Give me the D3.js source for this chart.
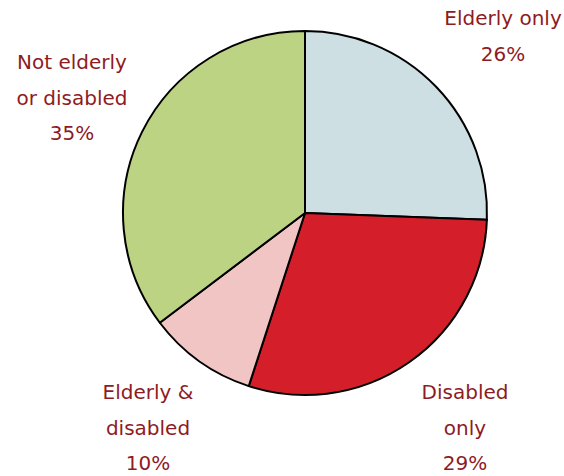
<!DOCTYPE html>
<html>
<head>
<meta charset="utf-8">
<script src="https://cdn.jsdelivr.net/npm/d3@7"></script>
<style>
  body { margin: 0; background: #fff; }
  text { font-family: "DejaVu Sans", sans-serif; font-size: 20px; fill: #8e1b1f; }
</style>
</head>
<body>
<div id="chart"></div>
<script>
// slice data, clockwise from 12 o'clock (labels show rounded shares)
const categories = ["Elderly only", "Disabled only", "Elderly & disabled", "Not elderly or disabled"];
const values = [25.6, 29.4, 9.7, 35.3];
const labelLines = [
    ["Elderly only", "26%"],
    ["Disabled", "only", "29%"],
    ["Elderly &", "disabled", "10%"],
    ["Not elderly", "or disabled", "35%"]
];
const colors = ["#cddfe2", "#d41f2a", "#f0c5c4", "#bdd384"];

const width = 564, height = 476;
const cx = 305, cy = 213, radius = 182;

let svg = d3.select("#chart")
    .append("svg")
    .attr("width", width)
    .attr("height", height);

let plot = svg.append("g")
    .attr("transform", `translate(${cx},${cy})`);

const pie = d3.pie().sort(null).value(d => d);
const arc = d3.arc().innerRadius(0).outerRadius(radius);
const arcs = pie(values);

plot.selectAll("path")
    .data(arcs)
    .enter()
    .append("path")
    .attr("d", arc)
    .attr("fill", (d, i) => colors[i])
    .attr("stroke", "#000")
    .attr("stroke-width", 2)
    .attr("stroke-linejoin", "round");

// label anchors (center of first line, page coords)
const labelPos = [[503, 18], [465, 392], [148, 392], [72, 62]];
const lineGap = 35.5;

let labels = svg.append("g").attr("class", "labels");
labelLines.forEach((lines, i) => {
    let t = labels.append("text")
        .attr("text-anchor", "middle");
    lines.forEach((ln, j) => {
        t.append("tspan")
            .attr("x", labelPos[i][0])
            .attr("y", labelPos[i][1] + j * lineGap)
            .attr("dy", "0.35em")
            .text(ln);
    });
});
</script>
</body>
</html>
